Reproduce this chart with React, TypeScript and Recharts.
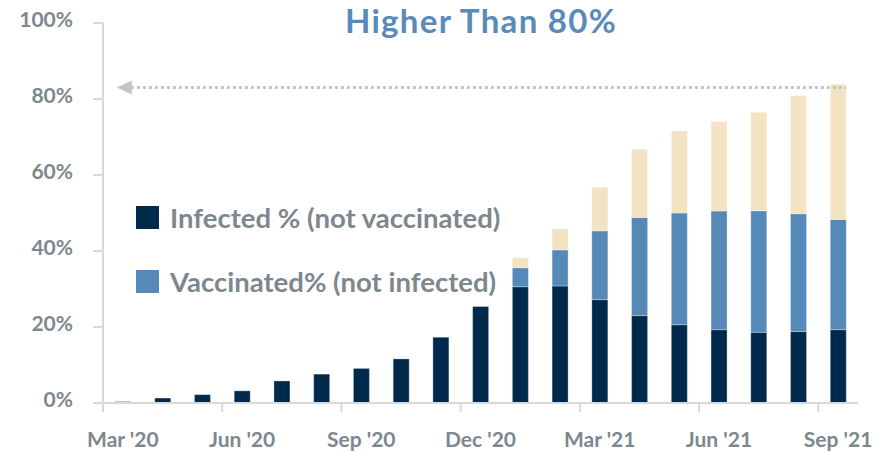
import React from 'react';
import { BarChart, Bar, XAxis, YAxis, ReferenceLine } from 'recharts';

const months = [
  "Mar '20", "Apr '20", "May '20", "Jun '20", "Jul '20", "Aug '20", "Sep '20", "Oct '20", "Nov '20", "Dec '20",
  "Jan '21", "Feb '21", "Mar '21", "Apr '21", "May '21", "Jun '21", "Jul '21", "Aug '21", "Sep '21",
];
const infected = [0.35, 1.3, 2.2, 3.2, 5.8, 7.6, 9.1, 11.6, 17.3, 25.4, 30.6, 30.8, 27.2, 23.0, 20.6, 19.3, 18.6, 18.8, 19.3];
const vaccinated = [0, 0, 0, 0, 0, 0, 0, 0, 0, 0, 5.0, 9.5, 18.1, 25.8, 29.4, 31.2, 32.0, 31.0, 29.0];
const both = [0, 0, 0, 0, 0, 0, 0, 0, 0, 0, 2.6, 5.5, 11.5, 18.0, 21.6, 23.6, 25.9, 31.1, 35.6];
const yTicks = [0, 20, 40, 60, 80, 100];
const thresholdValue = 83;
const titleText = 'Higher Than 80%';
const legendItems = [
  { label: 'Infected % (not vaccinated)', color: '#002a4b' },
  { label: 'Vaccinated% (not infected)', color: '#5589b8' },
];

const data = months.map((m, i) => ({
  month: m,
  infected: infected[i],
  vaccinated: vaccinated[i],
  both: both[i],
}));

const W = 879;
const H = 452;
const M = { top: 23, right: 21, bottom: 4, left: 0 };
const Y_W = 103;
const X_H = 45;
const plotW = W - M.left - M.right - Y_W;
const half = plotW / months.length / 2;

const AXIS = '#d9d9d9';
const TXT = '#7d888e';
const FONT = 'Lato, "Open Sans", sans-serif';

const XTick = (props: any) => {
  const { x, y, payload } = props;
  return (
    <g>
      <line x1={x - half} x2={x - half} y1={y} y2={y + 9} stroke={AXIS} strokeWidth={2} />
      <text x={x} y={y + 44} textAnchor="middle" fill={TXT} fontSize={21} fontWeight={700} fontFamily={FONT}>
        {payload.value}
      </text>
    </g>
  );
};

const YTick = (props: any) => {
  const { x, y, payload } = props;
  return (
    <text x={x} y={y} dy={4} textAnchor="end" fill={TXT} fontSize={21} fontWeight={700} fontFamily={FONT}>
      {`${payload.value}%`}
    </text>
  );
};

const ArrowLine = (props: any) => {
  const { x1, x2, y1 } = props;
  const tip = x1 - 6;
  return (
    <g>
      <line x1={tip + 14} x2={x2 + 8} y1={y1} y2={y1} stroke="#c4c4c4" strokeWidth={3} strokeDasharray="3 3" />
      <polygon points={`${tip},${y1} ${tip + 15},${y1 - 7} ${tip + 15},${y1 + 7}`} fill="#c4c4c4" />
    </g>
  );
};

export default function App() {
  return (
    <div style={{ position: 'absolute', left: 0, top: 0, width: W, height: H, background: '#fff' }}>
      <BarChart width={W} height={H} data={data} margin={M} barSize={16}>
        <XAxis
          dataKey="month"
          interval={2}
          height={X_H}
          tickLine={false}
          tickSize={0}
          tickMargin={0}
          axisLine={{ stroke: AXIS, strokeWidth: 2 }}
          tick={<XTick />}
        />
        <YAxis
          domain={[0, 100]}
          ticks={yTicks}
          width={Y_W}
          tickSize={10}
          tickMargin={20}
          axisLine={{ stroke: AXIS, strokeWidth: 2 }}
          tickLine={{ stroke: AXIS, strokeWidth: 2 }}
          tick={<YTick />}
        />
        <Bar dataKey="infected" stackId="a" fill="#002a4b" stroke="#ffffff" strokeOpacity={0.3} strokeWidth={1} isAnimationActive={false} />
        <Bar dataKey="vaccinated" stackId="a" fill="#5589b8" stroke="#ffffff" strokeOpacity={0.3} strokeWidth={1} isAnimationActive={false} />
        <Bar dataKey="both" stackId="a" fill="#f3e3c3" stroke="#ffffff" strokeOpacity={0.3} strokeWidth={1} isAnimationActive={false} />
        <ReferenceLine
          segment={[{ x: months[0], y: thresholdValue }, { x: months[months.length - 1], y: thresholdValue }]}
          shape={<ArrowLine />}
        />
      </BarChart>
      <svg style={{ position: 'absolute', left: 0, top: 0 }} width={W} height={60}>
        <text x={481} y={33} textAnchor="middle" fill="#5a8ab9" fontFamily={FONT} fontWeight={700} fontSize={33} letterSpacing={1.3}>
          {titleText}
        </text>
      </svg>
      <div style={{ position: 'absolute', left: 136, top: 185, fontFamily: FONT, fontSize: 27.5, fontWeight: 700, color: TXT }}>
        {legendItems.map((it) => (
          <div key={it.label} style={{ display: 'flex', alignItems: 'center', height: 64 }}>
            <span style={{ display: 'inline-block', width: 23, height: 23, background: it.color, marginRight: 11, flexShrink: 0 }} />
            <span style={{ whiteSpace: 'nowrap' }}>{it.label}</span>
          </div>
        ))}
      </div>
    </div>
  );
}
